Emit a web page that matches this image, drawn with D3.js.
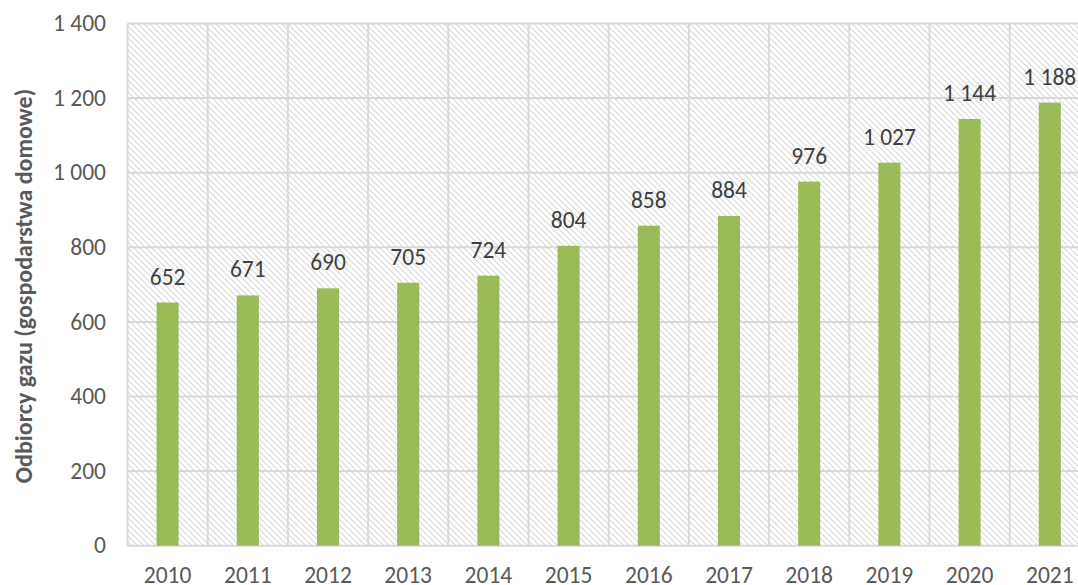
<!DOCTYPE html>
<html>
<head>
<meta charset="utf-8">
<script src="https://cdn.jsdelivr.net/npm/d3@7"></script>
<style>
  html, body { margin: 0; padding: 0; background: #fff; }
  svg text { font-family: Carlito, "Open Sans", "Liberation Sans", sans-serif; }
</style>
</head>
<body>
<svg id="chart" width="1078" height="585"></svg>
<script>
// data
const years = ["2010", "2011", "2012", "2013", "2014", "2015", "2016", "2017", "2018", "2019", "2020", "2021"];
const customers = [652, 671, 690, 705, 724, 804, 858, 884, 976, 1027, 1144, 1188];
const yTicks = [0, 200, 400, 600, 800, 1000, 1200, 1400];
const yTitle = "Odbiorcy gazu (gospodarstwa domowe)";

const svg = d3.select("#chart");

// plot area (extends past the right edge in the reference, so it gets cut off)
const plotLeft = 127.5, plotTop = 23.5, plotBottom = 545.7;
const band = 80.2;
const plotRight = plotLeft + band * years.length;

// format with space as thousands separator
const fmt = (v) => d3.format(",")(v).replace(/,/g, " ");

const x = d3.scaleBand().domain(years).range([plotLeft, plotRight]).paddingInner(0.725).paddingOuter(0.3625);
const y = d3.scaleLinear().domain([0, 1400]).range([plotBottom, plotTop]);

// hatch pattern for the plot background
const defs = svg.append("defs");
const pat = defs.append("pattern")
  .attr("id", "hatch")
  .attr("patternUnits", "userSpaceOnUse")
  .attr("width", 6)
  .attr("height", 6);
pat.append("rect").attr("width", 6).attr("height", 6).attr("fill", "#fff");
pat.append("path")
  .attr("d", "M-1,-1 L7,7 M-4,2 L2,8 M4,-2 L10,4")
  .attr("stroke", "#dadada")
  .attr("stroke-width", 1.2);

svg.append("rect")
  .attr("x", plotLeft)
  .attr("y", plotTop)
  .attr("width", plotRight - plotLeft)
  .attr("height", plotBottom - plotTop)
  .attr("fill", "url(#hatch)");

// horizontal gridlines
svg.append("g")
  .selectAll("line.hgrid")
  .data(yTicks)
  .enter()
  .append("line")
  .attr("class", "hgrid")
  .attr("x1", plotLeft)
  .attr("x2", plotRight)
  .attr("y1", (d) => y(d))
  .attr("y2", (d) => y(d))
  .attr("stroke", "#d9d9d9")
  .attr("stroke-width", 2);

// vertical gridlines at the band edges
svg.append("g")
  .selectAll("line.vgrid")
  .data(years.concat(["end"]))
  .enter()
  .append("line")
  .attr("class", "vgrid")
  .attr("x1", (d, i) => plotLeft + i * x.step())
  .attr("x2", (d, i) => plotLeft + i * x.step())
  .attr("y1", plotTop)
  .attr("y2", plotBottom)
  .attr("stroke", "#d9d9d9")
  .attr("stroke-width", 2);

// bars
svg.append("g")
  .selectAll("rect.bar")
  .data(customers)
  .enter()
  .append("rect")
  .attr("class", "bar")
  .attr("x", (d, i) => x(years[i]))
  .attr("y", (d) => y(d))
  .attr("width", x.bandwidth())
  .attr("height", (d) => plotBottom - y(d))
  .attr("fill", "#9bbb59");

// value labels
svg.append("g")
  .selectAll("text.val")
  .data(customers)
  .enter()
  .append("text")
  .attr("class", "val")
  .attr("x", (d, i) => x(years[i]) + x.bandwidth() / 2)
  .attr("y", (d) => y(d) - 18)
  .attr("text-anchor", "middle")
  .attr("font-size", "23.5px")
  .attr("fill", "#404040")
  .text((d) => fmt(d));

// y tick labels
svg.append("g")
  .selectAll("text.ytick")
  .data(yTicks)
  .enter()
  .append("text")
  .attr("class", "ytick")
  .attr("x", 106)
  .attr("y", (d) => y(d))
  .attr("dy", "0.33em")
  .attr("text-anchor", "end")
  .attr("font-size", "23.5px")
  .attr("fill", "#595959")
  .text((d) => fmt(d));

// x tick labels
svg.append("g")
  .selectAll("text.xtick")
  .data(years)
  .enter()
  .append("text")
  .attr("class", "xtick")
  .attr("x", (d) => x(d) + x.bandwidth() / 2)
  .attr("y", 583)
  .attr("text-anchor", "middle")
  .attr("font-size", "23.5px")
  .attr("fill", "#595959")
  .text((d) => d);

// y axis title
svg.append("text")
  .attr("transform", "translate(32,286) rotate(-90)")
  .attr("text-anchor", "middle")
  .attr("font-size", "24px")
  .attr("font-weight", "bold")
  .attr("fill", "#595959")
  .text(yTitle);
</script>
</body>
</html>
